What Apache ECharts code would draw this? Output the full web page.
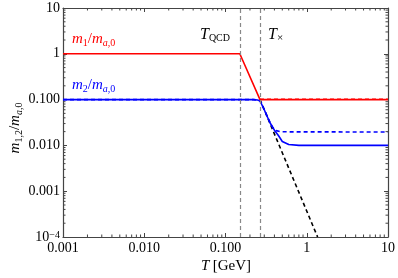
<!DOCTYPE html>
<html><head><meta charset="utf-8">
<script src="https://cdn.jsdelivr.net/npm/echarts@6/dist/echarts.min.js"></script>
<style>html,body{margin:0;padding:0;background:#fff}#c{width:398px;height:278px}</style>
</head><body><div id="c"></div>
<script>
// ---- data ----
const xTickLabels = ['0.001', '0.010', '0.100', '1', '10'];
const xTickExps = [-3, -2, -1, 0, 1];
const yTickLabels = ['{b|10}{sup|−4}', '0.001', '0.010', '0.100', '1', '10'];
const yTickExps = [-4, -3, -2, -1, 0, 1];
const minorMult = [2, 3, 4, 5, 6, 7, 8, 9];

const vLinesT = [0.15, 0.266];            // T_QCD, T_x
const redSolidT = [0.001, 0.15, 0.266, 10];
const redSolidM = [1, 1, 0.1, 0.1];
const redDashT = [0.266, 10];
const redDashM = [0.102, 0.102];
const blueSolidT = [0.001, 0.22, 0.248, 0.266, 0.3, 0.35, 0.4, 0.45, 0.5, 0.6, 0.8, 10];
const blueSolidM = [0.1, 0.1, 0.098, 0.094, 0.06, 0.032, 0.0215, 0.0162, 0.0122, 0.0105, 0.0100, 0.01];
const blueDashT = [0.001, 0.22, 0.248, 0.266, 0.3, 0.35, 0.38, 0.42, 0.48, 10];
const blueDashM = [0.1, 0.1, 0.098, 0.094, 0.06, 0.033, 0.0248, 0.021, 0.0198, 0.0196];
const blackDashT = [0.266, 1.36];
const blackDashM = [0.1, 0.0001];

const xMin = 0.001, xMax = 10, yMin = 1e-4, yMax = 10;
const FF = '"Liberation Serif", "DejaVu Serif", serif';
const frameColor = '#444';

function zip(a, b) { return a.map((v, i) => [v, b[i]]); }
function expOf(v) { return Math.round(Math.log10(v)); }

const minorData = [];
xTickExps.slice(0, -1).forEach(e => minorMult.forEach(m => minorData.push([m * Math.pow(10, e), yMin, 0])));
yTickExps.slice(0, -1).forEach(e => minorMult.forEach(m => minorData.push([xMin, m * Math.pow(10, e), 1])));

const chart = echarts.init(document.getElementById('c'), null, { renderer: 'canvas' });

const axisCommon = {
  type: 'log', logBase: 10,
  axisLine: { show: true, lineStyle: { color: frameColor, width: 1.2 } },
  axisTick: { show: true, inside: true, length: 4, lineStyle: { color: frameColor, width: 1 } },
  splitLine: { show: false },
  minorTick: { show: false }
};

function richLabel(color) {
  return {
    i: { fontFamily: FF, fontStyle: 'italic', fontSize: 15, fill: color, verticalAlign: 'top', lineHeight: 16 },
    n: { fontFamily: FF, fontSize: 15, fill: color, verticalAlign: 'top', lineHeight: 16 },
    s: { fontFamily: FF, fontSize: 10, fill: color, verticalAlign: 'bottom', lineHeight: 10, padding: [9, 0, 0, 0] },
    si: { fontFamily: FF, fontStyle: 'italic', fontSize: 10, fill: color, verticalAlign: 'bottom', lineHeight: 10, padding: [9, 0, 0, 0] }
  };
}

const option = {
  animation: false,
  backgroundColor: '#fff',
  grid: { left: 63, right: 8, top: 8, bottom: 41, containLabel: false },
  xAxis: [
    Object.assign({}, axisCommon, {
      min: xMin, max: xMax, position: 'bottom',
      axisLabel: {
        margin: 4, color: '#000', fontFamily: FF, fontSize: 14,
        formatter: v => xTickLabels[xTickExps.indexOf(expOf(v))] || ''
      }
    }),
    Object.assign({}, axisCommon, {
      min: xMin, max: xMax, position: 'top', axisLabel: { show: false }
    })
  ],
  yAxis: [
    Object.assign({}, axisCommon, {
      min: yMin, max: yMax, position: 'left',
      axisLabel: {
        margin: 3, color: '#000', fontFamily: FF, fontSize: 14,
        formatter: v => yTickLabels[yTickExps.indexOf(expOf(v))] || '',
        rich: {
          b: { fontFamily: FF, fontSize: 14, color: '#000' },
          sup: { fontFamily: FF, fontSize: 10, color: '#000', verticalAlign: 'top', lineHeight: 10 }
        }
      }
    }),
    Object.assign({}, axisCommon, {
      min: yMin, max: yMax, position: 'right', axisLabel: { show: false }
    })
  ],
  series: [
    {
      type: 'custom', xAxisIndex: 0, yAxisIndex: 0, clip: false, silent: true, z: 5,
      data: minorData,
      renderItem: function (params, api) {
        const v = api.value(0), w = api.value(1), kind = api.value(2);
        const st = { stroke: frameColor, lineWidth: 1 };
        const L = 2.5;
        if (kind === 0) {
          const b = api.coord([v, yMin]), t = api.coord([v, yMax]);
          return { type: 'group', children: [
            { type: 'line', shape: { x1: b[0], y1: b[1], x2: b[0], y2: b[1] - L }, style: st },
            { type: 'line', shape: { x1: t[0], y1: t[1], x2: t[0], y2: t[1] + L }, style: st }
          ] };
        } else {
          const l = api.coord([xMin, w]), r = api.coord([xMax, w]);
          return { type: 'group', children: [
            { type: 'line', shape: { x1: l[0], y1: l[1], x2: l[0] + L, y2: l[1] }, style: st },
            { type: 'line', shape: { x1: r[0], y1: r[1], x2: r[0] - L, y2: r[1] }, style: st }
          ] };
        }
      }
    },
    {
      type: 'line', data: zip(blackDashT, blackDashM), showSymbol: false, symbol: 'none',
      lineStyle: { color: '#000', width: 1.6, type: [4, 3] }, z: 2,
      markLine: {
        silent: true, symbol: 'none', label: { show: false },
        lineStyle: { color: '#888', width: 1.2, type: [4, 3] },
        data: vLinesT.map(t => ({ xAxis: t }))
      }
    },
    {
      type: 'line', data: zip(blueSolidT, blueSolidM), showSymbol: false, symbol: 'none',
      lineStyle: { color: '#0000ff', width: 1.6 }, z: 3
    },
    {
      type: 'line', data: zip(blueDashT, blueDashM), showSymbol: false, symbol: 'none',
      lineStyle: { color: '#0000ff', width: 1.6, type: [4, 3] }, z: 3
    },
    {
      type: 'line', data: zip(redSolidT, redSolidM), showSymbol: false, symbol: 'none',
      lineStyle: { color: '#ff0000', width: 1.6 }, z: 4
    },
    {
      type: 'line', data: zip(redDashT, redDashM), showSymbol: false, symbol: 'none',
      lineStyle: { color: '#ff0000', width: 1.4, type: [4, 3] }, z: 4
    }
  ],
  graphic: [
    {
      type: 'text', x: 72, y: 40, z: 10,
      style: { text: '{i|m}{s|1}{n|/}{i|m}{si|a}{s|,0}', fill: '#ff0000', verticalAlign: 'middle', align: 'left', rich: richLabel('#ff0000') }
    },
    {
      type: 'text', x: 72, y: 86, z: 10,
      style: { text: '{i|m}{s|2}{n|/}{i|m}{si|a}{s|,0}', fill: '#0000ff', verticalAlign: 'middle', align: 'left', rich: richLabel('#0000ff') }
    },
    {
      type: 'text', x: 200, y: 35, z: 10,
      style: {
        text: '{i|T}{s|QCD}', fill: '#000', verticalAlign: 'middle', align: 'left',
        rich: {
          i: { fontFamily: FF, fontStyle: 'italic', fontSize: 16, fill: '#000', verticalAlign: 'top', lineHeight: 17 },
          s: { fontFamily: FF, fontSize: 10, fill: '#000', verticalAlign: 'bottom', lineHeight: 10, padding: [10, 0, 0, 0] }
        }
      }
    },
    {
      type: 'text', x: 268, y: 35, z: 10,
      style: {
        text: '{i|T}{s|×}', fill: '#000', verticalAlign: 'middle', align: 'left',
        rich: {
          i: { fontFamily: FF, fontStyle: 'italic', fontSize: 16, fill: '#000', verticalAlign: 'top', lineHeight: 17 },
          s: { fontFamily: FF, fontSize: 11, fill: '#000', verticalAlign: 'bottom', lineHeight: 11, padding: [9, 0, 0, 0] }
        }
      }
    },
    {
      type: 'text', x: 226, y: 266, z: 10,
      style: {
        text: '{i|T} {n|[GeV]}', fill: '#000', verticalAlign: 'middle', align: 'center',
        rich: {
          i: { fontFamily: FF, fontStyle: 'italic', fontSize: 15, fill: '#000' },
          n: { fontFamily: FF, fontSize: 15, fill: '#000' }
        }
      }
    },
    {
      type: 'text', x: 16, y: 128, rotation: Math.PI / 2, z: 10,
      style: { text: '{i|m}{s|1,2}{n|/}{i|m}{si|a}{s|,0}', fill: '#000', verticalAlign: 'middle', align: 'center', rich: richLabel('#000') }
    }
  ]
};
chart.setOption(option);
</script></body></html>
